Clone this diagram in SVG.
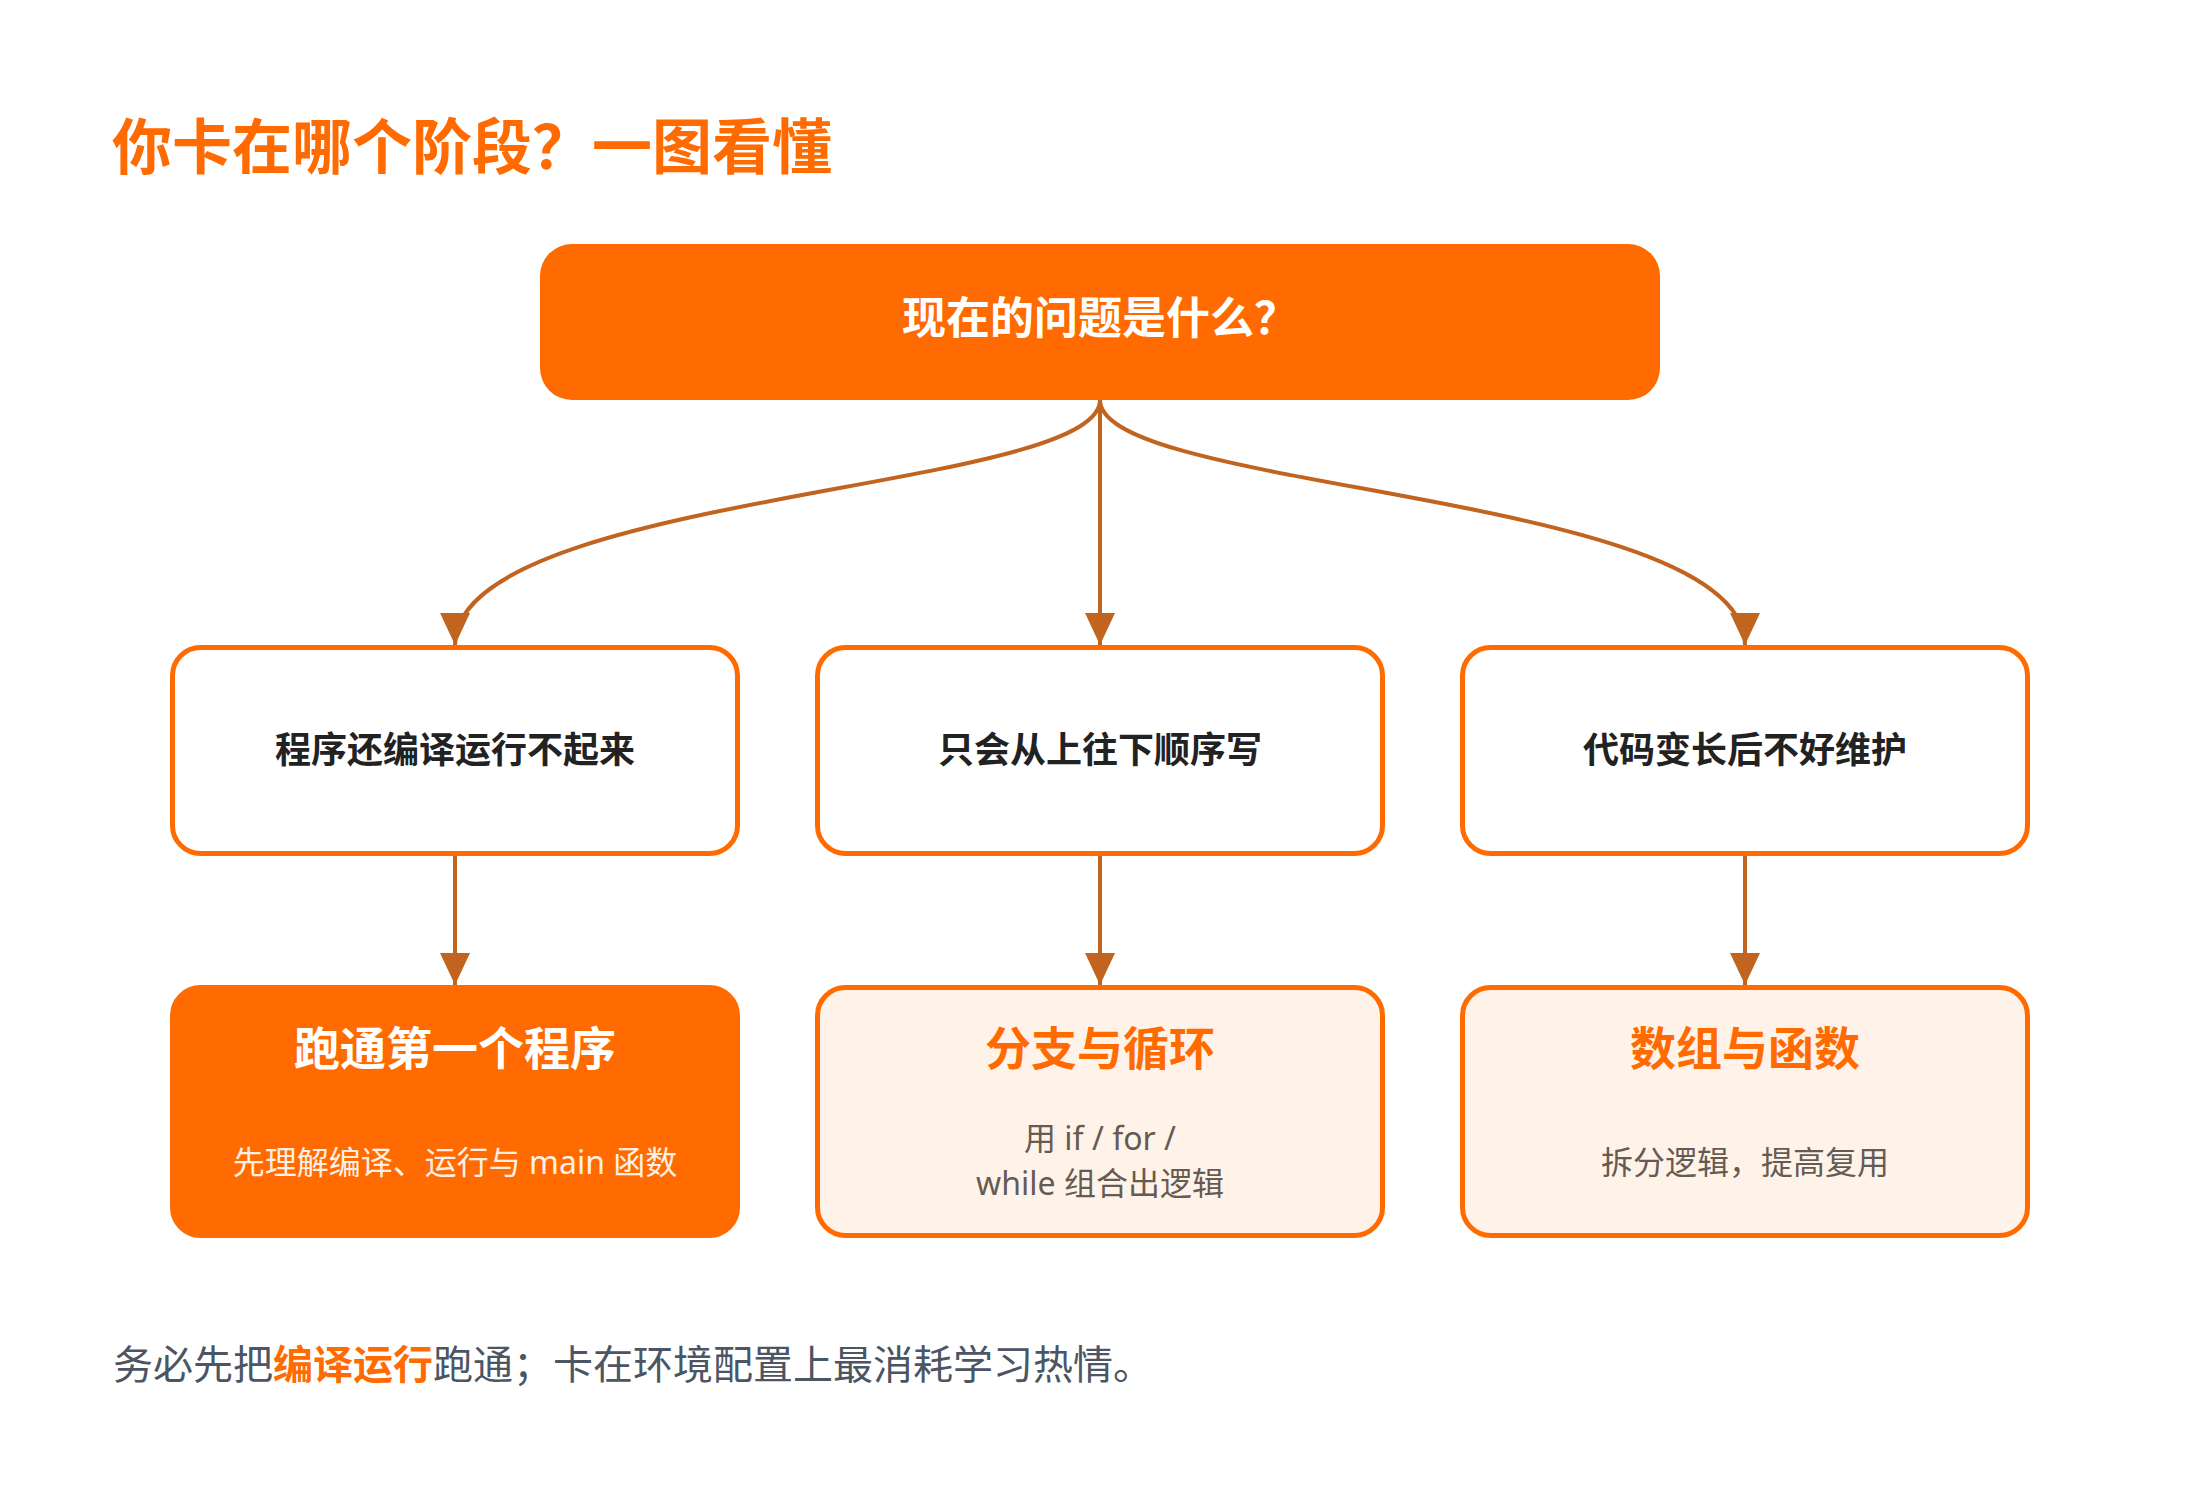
<svg xmlns="http://www.w3.org/2000/svg" width="2200" height="1488" viewBox="0 0 2200 1488">
  <defs>
    <style>
      text { font-family: "Noto Sans", "Noto Sans CJK SC", sans-serif; }
      .title { font-size: 60px; font-weight: 700; fill: #FF6B00; }
      .root-box { fill: #FF6B00; }
      .root-text { font-size: 44px; font-weight: 700; fill: #FFFFFF; text-anchor: middle; }
      .q-box { fill: #FFFFFF; stroke: #FF6B00; stroke-width: 5; }
      .q-text { font-size: 36px; font-weight: 700; fill: #222222; text-anchor: middle; }
      .a-box-hot { fill: #FF6B00; stroke: #FF6B00; stroke-width: 5; }
      .a-box { fill: #FFF3E9; stroke: #FF6B00; stroke-width: 5; }
      .a-title-hot { font-size: 46px; font-weight: 700; fill: #FFFFFF; text-anchor: middle; }
      .a-title { font-size: 46px; font-weight: 700; fill: #FF6B00; text-anchor: middle; }
      .a-sub-hot { font-size: 32px; fill: #FFF0E6; text-anchor: middle; }
      .a-sub { font-size: 32px; fill: #665B52; text-anchor: middle; }
      .edge { fill: none; stroke: #C0641F; stroke-width: 4; }
      .caption { font-size: 40px; fill: #4B5563; }
      .caption .hl { font-weight: 700; fill: #FF6B00; }
    </style>
    <marker id="arrow" viewBox="0 0 32 30" refX="32" refY="15" markerWidth="32" markerHeight="30" markerUnits="userSpaceOnUse" orient="auto">
      <path d="M0 0 L32 15 L0 30 Z" fill="#C0641F"/>
    </marker>
  </defs>

  <rect width="2200" height="1488" fill="#FFFFFF"/>

  <text id="title" class="title" x="112" y="169">你卡在哪个阶段？一图看懂</text>

  <g id="edges">
    <path class="edge" d="M1100 400 C1100 492 455 492 455 645" marker-end="url(#arrow)"/>
    <path class="edge" d="M1100 400 L1100 645" marker-end="url(#arrow)"/>
    <path class="edge" d="M1100 400 C1100 492 1745 492 1745 645" marker-end="url(#arrow)"/>
    <path class="edge" d="M455 856 L455 985" marker-end="url(#arrow)"/>
    <path class="edge" d="M1100 856 L1100 985" marker-end="url(#arrow)"/>
    <path class="edge" d="M1745 856 L1745 985" marker-end="url(#arrow)"/>
  </g>

  <g id="root">
    <rect class="root-box" x="540" y="244" width="1120" height="156" rx="32"/>
    <text class="root-text" x="1100" y="334">现在的问题是什么？</text>
  </g>

  <g id="q1">
    <rect class="q-box" x="172.5" y="647.5" width="565" height="206" rx="28"/>
    <text class="q-text" x="455" y="763">程序还编译运行不起来</text>
  </g>
  <g id="q2">
    <rect class="q-box" x="817.5" y="647.5" width="565" height="206" rx="28"/>
    <text class="q-text" x="1100" y="763">只会从上往下顺序写</text>
  </g>
  <g id="q3">
    <rect class="q-box" x="1462.5" y="647.5" width="565" height="206" rx="28"/>
    <text class="q-text" x="1745" y="763">代码变长后不好维护</text>
  </g>

  <g id="a1">
    <rect class="a-box-hot" x="172.5" y="987.5" width="565" height="248" rx="28"/>
    <text class="a-title-hot" x="455" y="1065">跑通第一个程序</text>
    <text class="a-sub-hot" x="455" y="1174">先理解编译、运行与 main 函数</text>
  </g>
  <g id="a2">
    <rect class="a-box" x="817.5" y="987.5" width="565" height="248" rx="28"/>
    <text class="a-title" x="1100" y="1065">分支与循环</text>
    <text class="a-sub" x="1100" y="1150">用 if / for /</text>
    <text class="a-sub" x="1100" y="1195">while 组合出逻辑</text>
  </g>
  <g id="a3">
    <rect class="a-box" x="1462.5" y="987.5" width="565" height="248" rx="28"/>
    <text class="a-title" x="1745" y="1065">数组与函数</text>
    <text class="a-sub" x="1745" y="1174">拆分逻辑，提高复用</text>
  </g>

  <text id="caption" class="caption" x="113" y="1379">务必先把<tspan class="hl">编译运行</tspan>跑通；卡在环境配置上最消耗学习热情。</text>
</svg>
